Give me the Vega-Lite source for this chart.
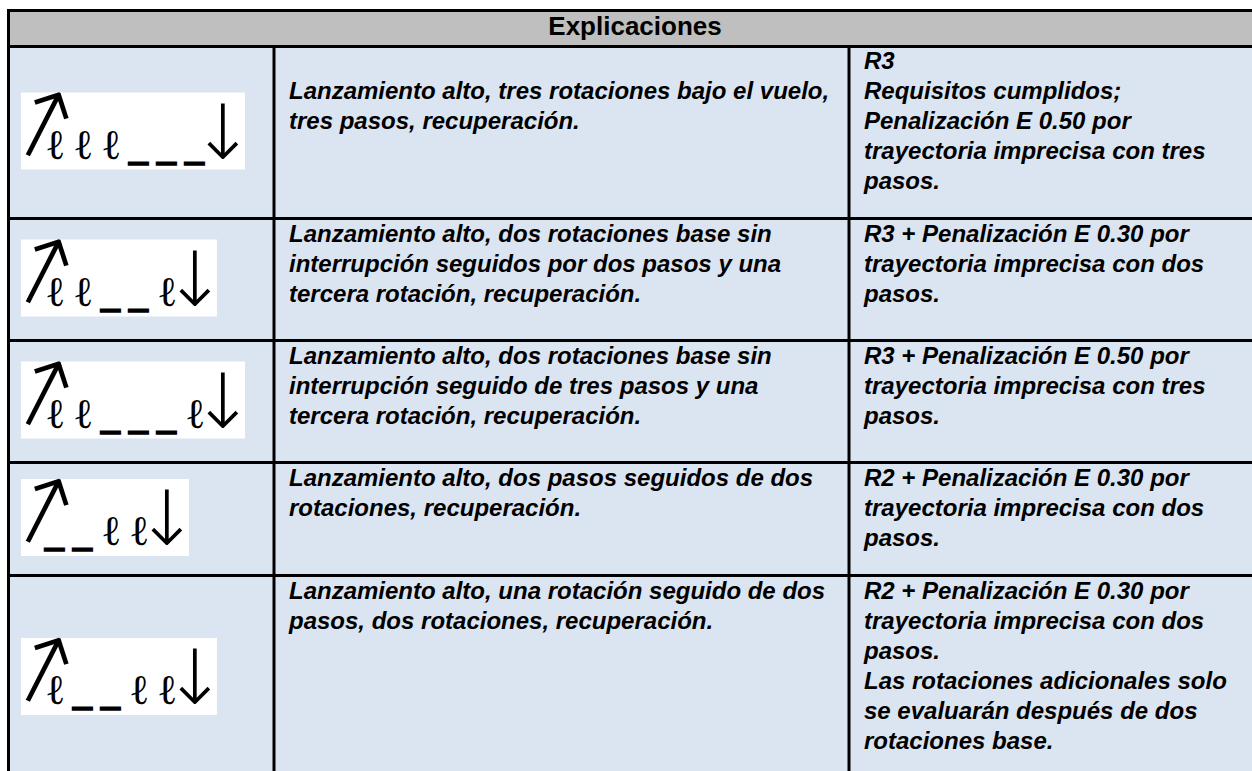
{
  "$schema": "https://vega.github.io/schema/vega-lite/v6.json",
  "padding": {"left": 7, "top": 9, "right": 0, "bottom": 0},
  "spacing": 0,
  "config": {"view": {"stroke": null}},
  "usermeta": {"embedOptions": {"actions": false}},
  "datasets": {
    "encabezado": [{"titulo": "Explicaciones"}],
    "celdas": [
      {"fila": 1, "col": 1, "linea": 2, "texto": "Lanzamiento alto, tres rotaciones bajo el vuelo,"},
      {"fila": 1, "col": 1, "linea": 3, "texto": "tres pasos, recuperación."},
      {"fila": 1, "col": 2, "linea": 1, "texto": "R3"},
      {"fila": 1, "col": 2, "linea": 2, "texto": "Requisitos cumplidos;"},
      {"fila": 1, "col": 2, "linea": 3, "texto": "Penalización E 0.50 por"},
      {"fila": 1, "col": 2, "linea": 4, "texto": "trayectoria imprecisa con tres"},
      {"fila": 1, "col": 2, "linea": 5, "texto": "pasos."},
      {"fila": 2, "col": 1, "linea": 1, "texto": "Lanzamiento alto, dos rotaciones base sin"},
      {"fila": 2, "col": 1, "linea": 2, "texto": "interrupción seguidos por dos pasos y una"},
      {"fila": 2, "col": 1, "linea": 3, "texto": "tercera rotación, recuperación."},
      {"fila": 2, "col": 2, "linea": 1, "texto": "R3 + Penalización E 0.30 por"},
      {"fila": 2, "col": 2, "linea": 2, "texto": "trayectoria imprecisa con dos"},
      {"fila": 2, "col": 2, "linea": 3, "texto": "pasos."},
      {"fila": 3, "col": 1, "linea": 1, "texto": "Lanzamiento alto, dos rotaciones base sin"},
      {"fila": 3, "col": 1, "linea": 2, "texto": "interrupción seguido de tres pasos y una"},
      {"fila": 3, "col": 1, "linea": 3, "texto": "tercera rotación, recuperación."},
      {"fila": 3, "col": 2, "linea": 1, "texto": "R3 + Penalización E 0.50 por"},
      {"fila": 3, "col": 2, "linea": 2, "texto": "trayectoria imprecisa con tres"},
      {"fila": 3, "col": 2, "linea": 3, "texto": "pasos."},
      {"fila": 4, "col": 1, "linea": 1, "texto": "Lanzamiento alto, dos pasos seguidos de dos"},
      {"fila": 4, "col": 1, "linea": 2, "texto": "rotaciones, recuperación."},
      {"fila": 4, "col": 2, "linea": 1, "texto": "R2 + Penalización E 0.30 por"},
      {"fila": 4, "col": 2, "linea": 2, "texto": "trayectoria imprecisa con dos"},
      {"fila": 4, "col": 2, "linea": 3, "texto": "pasos."},
      {"fila": 5, "col": 1, "linea": 1, "texto": "Lanzamiento alto, una rotación seguido de dos"},
      {"fila": 5, "col": 1, "linea": 2, "texto": "pasos, dos rotaciones, recuperación."},
      {"fila": 5, "col": 2, "linea": 1, "texto": "R2 + Penalización E 0.30 por"},
      {"fila": 5, "col": 2, "linea": 2, "texto": "trayectoria imprecisa con dos"},
      {"fila": 5, "col": 2, "linea": 3, "texto": "pasos."},
      {"fila": 5, "col": 2, "linea": 4, "texto": "Las rotaciones adicionales solo"},
      {"fila": 5, "col": 2, "linea": 5, "texto": "se evaluarán después de dos"},
      {"fila": 5, "col": 2, "linea": 6, "texto": "rotaciones base."}
    ],
    "simbolos": [
      {"fila": 1, "orden": 1, "elemento": "lanzamiento", "glifo": "↑"},
      {"fila": 1, "orden": 2, "elemento": "rotación", "glifo": "ℓ"},
      {"fila": 1, "orden": 3, "elemento": "rotación", "glifo": "ℓ"},
      {"fila": 1, "orden": 4, "elemento": "rotación", "glifo": "ℓ"},
      {"fila": 1, "orden": 5, "elemento": "paso", "glifo": "▁"},
      {"fila": 1, "orden": 6, "elemento": "paso", "glifo": "▁"},
      {"fila": 1, "orden": 7, "elemento": "paso", "glifo": "▁"},
      {"fila": 1, "orden": 8, "elemento": "recuperación", "glifo": "↓"},
      {"fila": 2, "orden": 1, "elemento": "lanzamiento", "glifo": "↑"},
      {"fila": 2, "orden": 2, "elemento": "rotación", "glifo": "ℓ"},
      {"fila": 2, "orden": 3, "elemento": "rotación", "glifo": "ℓ"},
      {"fila": 2, "orden": 4, "elemento": "paso", "glifo": "▁"},
      {"fila": 2, "orden": 5, "elemento": "paso", "glifo": "▁"},
      {"fila": 2, "orden": 6, "elemento": "rotación", "glifo": "ℓ"},
      {"fila": 2, "orden": 7, "elemento": "recuperación", "glifo": "↓"},
      {"fila": 3, "orden": 1, "elemento": "lanzamiento", "glifo": "↑"},
      {"fila": 3, "orden": 2, "elemento": "rotación", "glifo": "ℓ"},
      {"fila": 3, "orden": 3, "elemento": "rotación", "glifo": "ℓ"},
      {"fila": 3, "orden": 4, "elemento": "paso", "glifo": "▁"},
      {"fila": 3, "orden": 5, "elemento": "paso", "glifo": "▁"},
      {"fila": 3, "orden": 6, "elemento": "paso", "glifo": "▁"},
      {"fila": 3, "orden": 7, "elemento": "rotación", "glifo": "ℓ"},
      {"fila": 3, "orden": 8, "elemento": "recuperación", "glifo": "↓"},
      {"fila": 4, "orden": 1, "elemento": "lanzamiento", "glifo": "↑"},
      {"fila": 4, "orden": 2, "elemento": "paso", "glifo": "▁"},
      {"fila": 4, "orden": 3, "elemento": "paso", "glifo": "▁"},
      {"fila": 4, "orden": 4, "elemento": "rotación", "glifo": "ℓ"},
      {"fila": 4, "orden": 5, "elemento": "rotación", "glifo": "ℓ"},
      {"fila": 4, "orden": 6, "elemento": "recuperación", "glifo": "↓"},
      {"fila": 5, "orden": 1, "elemento": "lanzamiento", "glifo": "↑"},
      {"fila": 5, "orden": 2, "elemento": "rotación", "glifo": "ℓ"},
      {"fila": 5, "orden": 3, "elemento": "paso", "glifo": "▁"},
      {"fila": 5, "orden": 4, "elemento": "paso", "glifo": "▁"},
      {"fila": 5, "orden": 5, "elemento": "rotación", "glifo": "ℓ"},
      {"fila": 5, "orden": 6, "elemento": "rotación", "glifo": "ℓ"},
      {"fila": 5, "orden": 7, "elemento": "recuperación", "glifo": "↓"}
    ]
  },
  "vconcat": [
    {
      "width": 1245, "height": 36,
      "view": {"fill": "#bfbfbf", "stroke": null},
      "data": {"name": "encabezado"},
      "layer": [
        {"mark": {"type": "text", "font": "Liberation Sans", "fontSize": 26, "fontWeight": "bold", "align": "center", "baseline": "middle", "color": "#000000"},
         "encoding": {"x": {"datum": 1.5, "type": "quantitative", "scale": {"domain": [1, 2], "range": [0, 1256], "nice": false, "zero": false}, "axis": null},
                      "y": {"datum": 1.5, "type": "quantitative", "scale": {"domain": [1, 2], "nice": false, "zero": false}, "axis": null},
                      "text": {"field": "titulo"}}},
        {"mark": {"type": "rect", "fill": "#000000", "x2Offset": 3}, "encoding": {"x": {"datum": 1, "type": "quantitative"}, "x2": {"datum": 1}}},
        {"mark": {"type": "rect", "fill": "#000000", "y2Offset": 3}, "encoding": {"y": {"datum": 2, "type": "quantitative"}, "y2": {"datum": 2}}}
      ]
    },
    {
      "hconcat": [
        {
          "width": 267, "height": 172, "view": {"fill": "#dbe5f1", "stroke": null},
          "data": {"name": "simbolos"}, "transform": [{"filter": "datum.fila == 1"}],
          "layer": [
            {"transform": [{"aggregate": [{"op": "min", "field": "orden", "as": "a"}, {"op": "max", "field": "orden", "as": "b"}]}],
             "mark": {"type": "rect", "fill": "#ffffff", "xOffset": -14, "x2Offset": 14},
             "encoding": {"x": {"field": "a", "type": "quantitative", "scale": {"domain": [0.001, 9.537], "nice": false, "zero": false}, "axis": null}, "x2": {"field": "b"},
                          "y": {"datum": 4, "type": "quantitative", "scale": {"domain": [2.7662, 7.2338], "nice": false, "zero": false}, "axis": null}, "y2": {"datum": 6}}},
            {"mark": {"type": "text", "font": "DejaVu Sans", "fontWeight": 200, "align": "center", "baseline": "alphabetic", "dx": -8, "color": "#000000", "clip": true},
             "encoding": {"x": {"field": "orden", "type": "quantitative"}, "y": {"datum": 4.273, "type": "quantitative"}, "text": {"field": "glifo"},
                          "angle": {"condition": {"test": "datum.elemento == 'lanzamiento'", "value": 27}, "value": 0},
                          "size": {"condition": [{"test": "datum.elemento == 'lanzamiento'", "value": 96}, {"test": "datum.elemento == 'recuperación'", "value": 76}, {"test": "datum.elemento == 'paso'", "value": 27}], "value": 42}}},
            {"transform": [{"aggregate": [{"op": "count", "as": "n"}]}], "mark": {"type": "rect", "fill": "#000000", "x2Offset": 3}, "encoding": {"x": {"datum": 0.001, "type": "quantitative"}, "x2": {"datum": 0.001}}},
            {"transform": [{"aggregate": [{"op": "count", "as": "n"}]}], "mark": {"type": "rect", "fill": "#000000", "y2Offset": 3}, "encoding": {"y": {"datum": 7.2338, "type": "quantitative"}, "y2": {"datum": 7.2338}}}
          ]
        },
        {
          "width": 575, "height": 172, "view": {"fill": "#dbe5f1", "stroke": null},
          "data": {"name": "celdas"}, "transform": [{"filter": "datum.fila == 1 && datum.col == 1"}],
          "layer": [
            {"mark": {"type": "text", "font": "Liberation Sans", "fontSize": 24, "fontStyle": "italic", "fontWeight": "bold", "align": "left", "baseline": "middle", "dx": 15, "color": "#000000"},
             "encoding": {"x": {"datum": 1, "type": "quantitative", "scale": {"domain": [1, 2], "nice": false, "zero": false}, "axis": null},
                          "y": {"field": "linea", "type": "quantitative", "scale": {"domain": [0.41667, 6.15], "reverse": true, "nice": false, "zero": false}, "axis": null},
                          "text": {"field": "texto"}}},
            {"transform": [{"aggregate": [{"op": "count", "as": "n"}]}], "mark": {"type": "rect", "fill": "#000000", "xOffset": -1.5, "x2Offset": 1.5}, "encoding": {"x": {"datum": 1, "type": "quantitative"}, "x2": {"datum": 1}}},
            {"transform": [{"aggregate": [{"op": "count", "as": "n"}]}], "mark": {"type": "rect", "fill": "#000000", "y2Offset": 3}, "encoding": {"y": {"datum": 0.41667, "type": "quantitative"}, "y2": {"datum": 0.41667}}}
          ]
        },
        {
          "width": 403, "height": 172, "view": {"fill": "#dbe5f1", "stroke": null},
          "data": {"name": "celdas"}, "transform": [{"filter": "datum.fila == 1 && datum.col == 2"}],
          "layer": [
            {"mark": {"type": "text", "font": "Liberation Sans", "fontSize": 24, "fontStyle": "italic", "fontWeight": "bold", "align": "left", "baseline": "middle", "dx": 15, "color": "#000000"},
             "encoding": {"x": {"datum": 1, "type": "quantitative", "scale": {"domain": [1, 2], "nice": false, "zero": false}, "axis": null},
                          "y": {"field": "linea", "type": "quantitative", "scale": {"domain": [0.41667, 6.15], "reverse": true, "nice": false, "zero": false}, "axis": null},
                          "text": {"field": "texto"}}},
            {"transform": [{"aggregate": [{"op": "count", "as": "n"}]}], "mark": {"type": "rect", "fill": "#000000", "xOffset": -1.5, "x2Offset": 1.5}, "encoding": {"x": {"datum": 1, "type": "quantitative"}, "x2": {"datum": 1}}},
            {"transform": [{"aggregate": [{"op": "count", "as": "n"}]}], "mark": {"type": "rect", "fill": "#000000", "y2Offset": 3}, "encoding": {"y": {"datum": 0.41667, "type": "quantitative"}, "y2": {"datum": 0.41667}}}
          ]
        }
      ],
      "spacing": 0, "bounds": "flush"
    },
    {
      "hconcat": [
        {
          "width": 267, "height": 122, "view": {"fill": "#dbe5f1", "stroke": null},
          "data": {"name": "simbolos"}, "transform": [{"filter": "datum.fila == 2"}],
          "layer": [
            {"transform": [{"aggregate": [{"op": "min", "field": "orden", "as": "a"}, {"op": "max", "field": "orden", "as": "b"}]}],
             "mark": {"type": "rect", "fill": "#ffffff", "xOffset": -14, "x2Offset": 14},
             "encoding": {"x": {"field": "a", "type": "quantitative", "scale": {"domain": [0.001, 9.537], "nice": false, "zero": false}, "axis": null}, "x2": {"field": "b"},
                          "y": {"datum": 4, "type": "quantitative", "scale": {"domain": [3.4156, 6.5844], "nice": false, "zero": false}, "axis": null}, "y2": {"datum": 6}}},
            {"mark": {"type": "text", "font": "DejaVu Sans", "fontWeight": 200, "align": "center", "baseline": "alphabetic", "dx": -8, "color": "#000000", "clip": true},
             "encoding": {"x": {"field": "orden", "type": "quantitative"}, "y": {"datum": 4.273, "type": "quantitative"}, "text": {"field": "glifo"},
                          "angle": {"condition": {"test": "datum.elemento == 'lanzamiento'", "value": 27}, "value": 0},
                          "size": {"condition": [{"test": "datum.elemento == 'lanzamiento'", "value": 96}, {"test": "datum.elemento == 'recuperación'", "value": 76}, {"test": "datum.elemento == 'paso'", "value": 27}], "value": 42}}},
            {"transform": [{"aggregate": [{"op": "count", "as": "n"}]}], "mark": {"type": "rect", "fill": "#000000", "x2Offset": 3}, "encoding": {"x": {"datum": 0.001, "type": "quantitative"}, "x2": {"datum": 0.001}}},
            {"transform": [{"aggregate": [{"op": "count", "as": "n"}]}], "mark": {"type": "rect", "fill": "#000000", "y2Offset": 3}, "encoding": {"y": {"datum": 6.5844, "type": "quantitative"}, "y2": {"datum": 6.5844}}}
          ]
        },
        {
          "width": 575, "height": 122, "view": {"fill": "#dbe5f1", "stroke": null},
          "data": {"name": "celdas"}, "transform": [{"filter": "datum.fila == 2 && datum.col == 1"}],
          "layer": [
            {"mark": {"type": "text", "font": "Liberation Sans", "fontSize": 24, "fontStyle": "italic", "fontWeight": "bold", "align": "left", "baseline": "middle", "dx": 15, "color": "#000000"},
             "encoding": {"x": {"datum": 1, "type": "quantitative", "scale": {"domain": [1, 2], "nice": false, "zero": false}, "axis": null},
                          "y": {"field": "linea", "type": "quantitative", "scale": {"domain": [0.41667, 4.4833], "reverse": true, "nice": false, "zero": false}, "axis": null},
                          "text": {"field": "texto"}}},
            {"transform": [{"aggregate": [{"op": "count", "as": "n"}]}], "mark": {"type": "rect", "fill": "#000000", "xOffset": -1.5, "x2Offset": 1.5}, "encoding": {"x": {"datum": 1, "type": "quantitative"}, "x2": {"datum": 1}}},
            {"transform": [{"aggregate": [{"op": "count", "as": "n"}]}], "mark": {"type": "rect", "fill": "#000000", "y2Offset": 3}, "encoding": {"y": {"datum": 0.41667, "type": "quantitative"}, "y2": {"datum": 0.41667}}}
          ]
        },
        {
          "width": 403, "height": 122, "view": {"fill": "#dbe5f1", "stroke": null},
          "data": {"name": "celdas"}, "transform": [{"filter": "datum.fila == 2 && datum.col == 2"}],
          "layer": [
            {"mark": {"type": "text", "font": "Liberation Sans", "fontSize": 24, "fontStyle": "italic", "fontWeight": "bold", "align": "left", "baseline": "middle", "dx": 15, "color": "#000000"},
             "encoding": {"x": {"datum": 1, "type": "quantitative", "scale": {"domain": [1, 2], "nice": false, "zero": false}, "axis": null},
                          "y": {"field": "linea", "type": "quantitative", "scale": {"domain": [0.41667, 4.4833], "reverse": true, "nice": false, "zero": false}, "axis": null},
                          "text": {"field": "texto"}}},
            {"transform": [{"aggregate": [{"op": "count", "as": "n"}]}], "mark": {"type": "rect", "fill": "#000000", "xOffset": -1.5, "x2Offset": 1.5}, "encoding": {"x": {"datum": 1, "type": "quantitative"}, "x2": {"datum": 1}}},
            {"transform": [{"aggregate": [{"op": "count", "as": "n"}]}], "mark": {"type": "rect", "fill": "#000000", "y2Offset": 3}, "encoding": {"y": {"datum": 0.41667, "type": "quantitative"}, "y2": {"datum": 0.41667}}}
          ]
        }
      ],
      "spacing": 0, "bounds": "flush"
    },
    {
      "hconcat": [
        {
          "width": 267, "height": 122, "view": {"fill": "#dbe5f1", "stroke": null},
          "data": {"name": "simbolos"}, "transform": [{"filter": "datum.fila == 3"}],
          "layer": [
            {"transform": [{"aggregate": [{"op": "min", "field": "orden", "as": "a"}, {"op": "max", "field": "orden", "as": "b"}]}],
             "mark": {"type": "rect", "fill": "#ffffff", "xOffset": -14, "x2Offset": 14},
             "encoding": {"x": {"field": "a", "type": "quantitative", "scale": {"domain": [0.001, 9.537], "nice": false, "zero": false}, "axis": null}, "x2": {"field": "b"},
                          "y": {"datum": 4, "type": "quantitative", "scale": {"domain": [3.4156, 6.5844], "nice": false, "zero": false}, "axis": null}, "y2": {"datum": 6}}},
            {"mark": {"type": "text", "font": "DejaVu Sans", "fontWeight": 200, "align": "center", "baseline": "alphabetic", "dx": -8, "color": "#000000", "clip": true},
             "encoding": {"x": {"field": "orden", "type": "quantitative"}, "y": {"datum": 4.273, "type": "quantitative"}, "text": {"field": "glifo"},
                          "angle": {"condition": {"test": "datum.elemento == 'lanzamiento'", "value": 27}, "value": 0},
                          "size": {"condition": [{"test": "datum.elemento == 'lanzamiento'", "value": 96}, {"test": "datum.elemento == 'recuperación'", "value": 76}, {"test": "datum.elemento == 'paso'", "value": 27}], "value": 42}}},
            {"transform": [{"aggregate": [{"op": "count", "as": "n"}]}], "mark": {"type": "rect", "fill": "#000000", "x2Offset": 3}, "encoding": {"x": {"datum": 0.001, "type": "quantitative"}, "x2": {"datum": 0.001}}},
            {"transform": [{"aggregate": [{"op": "count", "as": "n"}]}], "mark": {"type": "rect", "fill": "#000000", "y2Offset": 3}, "encoding": {"y": {"datum": 6.5844, "type": "quantitative"}, "y2": {"datum": 6.5844}}}
          ]
        },
        {
          "width": 575, "height": 122, "view": {"fill": "#dbe5f1", "stroke": null},
          "data": {"name": "celdas"}, "transform": [{"filter": "datum.fila == 3 && datum.col == 1"}],
          "layer": [
            {"mark": {"type": "text", "font": "Liberation Sans", "fontSize": 24, "fontStyle": "italic", "fontWeight": "bold", "align": "left", "baseline": "middle", "dx": 15, "color": "#000000"},
             "encoding": {"x": {"datum": 1, "type": "quantitative", "scale": {"domain": [1, 2], "nice": false, "zero": false}, "axis": null},
                          "y": {"field": "linea", "type": "quantitative", "scale": {"domain": [0.41667, 4.4833], "reverse": true, "nice": false, "zero": false}, "axis": null},
                          "text": {"field": "texto"}}},
            {"transform": [{"aggregate": [{"op": "count", "as": "n"}]}], "mark": {"type": "rect", "fill": "#000000", "xOffset": -1.5, "x2Offset": 1.5}, "encoding": {"x": {"datum": 1, "type": "quantitative"}, "x2": {"datum": 1}}},
            {"transform": [{"aggregate": [{"op": "count", "as": "n"}]}], "mark": {"type": "rect", "fill": "#000000", "y2Offset": 3}, "encoding": {"y": {"datum": 0.41667, "type": "quantitative"}, "y2": {"datum": 0.41667}}}
          ]
        },
        {
          "width": 403, "height": 122, "view": {"fill": "#dbe5f1", "stroke": null},
          "data": {"name": "celdas"}, "transform": [{"filter": "datum.fila == 3 && datum.col == 2"}],
          "layer": [
            {"mark": {"type": "text", "font": "Liberation Sans", "fontSize": 24, "fontStyle": "italic", "fontWeight": "bold", "align": "left", "baseline": "middle", "dx": 15, "color": "#000000"},
             "encoding": {"x": {"datum": 1, "type": "quantitative", "scale": {"domain": [1, 2], "nice": false, "zero": false}, "axis": null},
                          "y": {"field": "linea", "type": "quantitative", "scale": {"domain": [0.41667, 4.4833], "reverse": true, "nice": false, "zero": false}, "axis": null},
                          "text": {"field": "texto"}}},
            {"transform": [{"aggregate": [{"op": "count", "as": "n"}]}], "mark": {"type": "rect", "fill": "#000000", "xOffset": -1.5, "x2Offset": 1.5}, "encoding": {"x": {"datum": 1, "type": "quantitative"}, "x2": {"datum": 1}}},
            {"transform": [{"aggregate": [{"op": "count", "as": "n"}]}], "mark": {"type": "rect", "fill": "#000000", "y2Offset": 3}, "encoding": {"y": {"datum": 0.41667, "type": "quantitative"}, "y2": {"datum": 0.41667}}}
          ]
        }
      ],
      "spacing": 0, "bounds": "flush"
    },
    {
      "hconcat": [
        {
          "width": 267, "height": 113, "view": {"fill": "#dbe5f1", "stroke": null},
          "data": {"name": "simbolos"}, "transform": [{"filter": "datum.fila == 4"}],
          "layer": [
            {"transform": [{"aggregate": [{"op": "min", "field": "orden", "as": "a"}, {"op": "max", "field": "orden", "as": "b"}]}],
             "mark": {"type": "rect", "fill": "#ffffff", "xOffset": -14, "x2Offset": 14},
             "encoding": {"x": {"field": "a", "type": "quantitative", "scale": {"domain": [0.001, 9.537], "nice": false, "zero": false}, "axis": null}, "x2": {"field": "b"},
                          "y": {"datum": 4, "type": "quantitative", "scale": {"domain": [3.5325, 6.4675], "nice": false, "zero": false}, "axis": null}, "y2": {"datum": 6}}},
            {"mark": {"type": "text", "font": "DejaVu Sans", "fontWeight": 200, "align": "center", "baseline": "alphabetic", "dx": -8, "color": "#000000", "clip": true},
             "encoding": {"x": {"field": "orden", "type": "quantitative"}, "y": {"datum": 4.273, "type": "quantitative"}, "text": {"field": "glifo"},
                          "angle": {"condition": {"test": "datum.elemento == 'lanzamiento'", "value": 27}, "value": 0},
                          "size": {"condition": [{"test": "datum.elemento == 'lanzamiento'", "value": 96}, {"test": "datum.elemento == 'recuperación'", "value": 76}, {"test": "datum.elemento == 'paso'", "value": 27}], "value": 42}}},
            {"transform": [{"aggregate": [{"op": "count", "as": "n"}]}], "mark": {"type": "rect", "fill": "#000000", "x2Offset": 3}, "encoding": {"x": {"datum": 0.001, "type": "quantitative"}, "x2": {"datum": 0.001}}},
            {"transform": [{"aggregate": [{"op": "count", "as": "n"}]}], "mark": {"type": "rect", "fill": "#000000", "y2Offset": 3}, "encoding": {"y": {"datum": 6.4675, "type": "quantitative"}, "y2": {"datum": 6.4675}}}
          ]
        },
        {
          "width": 575, "height": 113, "view": {"fill": "#dbe5f1", "stroke": null},
          "data": {"name": "celdas"}, "transform": [{"filter": "datum.fila == 4 && datum.col == 1"}],
          "layer": [
            {"mark": {"type": "text", "font": "Liberation Sans", "fontSize": 24, "fontStyle": "italic", "fontWeight": "bold", "align": "left", "baseline": "middle", "dx": 15, "color": "#000000"},
             "encoding": {"x": {"datum": 1, "type": "quantitative", "scale": {"domain": [1, 2], "nice": false, "zero": false}, "axis": null},
                          "y": {"field": "linea", "type": "quantitative", "scale": {"domain": [0.41667, 4.15], "reverse": true, "nice": false, "zero": false}, "axis": null},
                          "text": {"field": "texto"}}},
            {"transform": [{"aggregate": [{"op": "count", "as": "n"}]}], "mark": {"type": "rect", "fill": "#000000", "xOffset": -1.5, "x2Offset": 1.5}, "encoding": {"x": {"datum": 1, "type": "quantitative"}, "x2": {"datum": 1}}},
            {"transform": [{"aggregate": [{"op": "count", "as": "n"}]}], "mark": {"type": "rect", "fill": "#000000", "y2Offset": 3}, "encoding": {"y": {"datum": 0.41667, "type": "quantitative"}, "y2": {"datum": 0.41667}}}
          ]
        },
        {
          "width": 403, "height": 113, "view": {"fill": "#dbe5f1", "stroke": null},
          "data": {"name": "celdas"}, "transform": [{"filter": "datum.fila == 4 && datum.col == 2"}],
          "layer": [
            {"mark": {"type": "text", "font": "Liberation Sans", "fontSize": 24, "fontStyle": "italic", "fontWeight": "bold", "align": "left", "baseline": "middle", "dx": 15, "color": "#000000"},
             "encoding": {"x": {"datum": 1, "type": "quantitative", "scale": {"domain": [1, 2], "nice": false, "zero": false}, "axis": null},
                          "y": {"field": "linea", "type": "quantitative", "scale": {"domain": [0.41667, 4.15], "reverse": true, "nice": false, "zero": false}, "axis": null},
                          "text": {"field": "texto"}}},
            {"transform": [{"aggregate": [{"op": "count", "as": "n"}]}], "mark": {"type": "rect", "fill": "#000000", "xOffset": -1.5, "x2Offset": 1.5}, "encoding": {"x": {"datum": 1, "type": "quantitative"}, "x2": {"datum": 1}}},
            {"transform": [{"aggregate": [{"op": "count", "as": "n"}]}], "mark": {"type": "rect", "fill": "#000000", "y2Offset": 3}, "encoding": {"y": {"datum": 0.41667, "type": "quantitative"}, "y2": {"datum": 0.41667}}}
          ]
        }
      ],
      "spacing": 0, "bounds": "flush"
    },
    {
      "hconcat": [
        {
          "width": 267, "height": 197, "view": {"fill": "#dbe5f1", "stroke": null},
          "data": {"name": "simbolos"}, "transform": [{"filter": "datum.fila == 5"}],
          "layer": [
            {"transform": [{"aggregate": [{"op": "min", "field": "orden", "as": "a"}, {"op": "max", "field": "orden", "as": "b"}]}],
             "mark": {"type": "rect", "fill": "#ffffff", "xOffset": -14, "x2Offset": 14},
             "encoding": {"x": {"field": "a", "type": "quantitative", "scale": {"domain": [0.001, 9.537], "nice": false, "zero": false}, "axis": null}, "x2": {"field": "b"},
                          "y": {"datum": 4, "type": "quantitative", "scale": {"domain": [2.546, 7.662], "nice": false, "zero": false}, "axis": null}, "y2": {"datum": 6}}},
            {"mark": {"type": "text", "font": "DejaVu Sans", "fontWeight": 200, "align": "center", "baseline": "alphabetic", "dx": -8, "color": "#000000", "clip": true},
             "encoding": {"x": {"field": "orden", "type": "quantitative"}, "y": {"datum": 4.273, "type": "quantitative"}, "text": {"field": "glifo"},
                          "angle": {"condition": {"test": "datum.elemento == 'lanzamiento'", "value": 27}, "value": 0},
                          "size": {"condition": [{"test": "datum.elemento == 'lanzamiento'", "value": 96}, {"test": "datum.elemento == 'recuperación'", "value": 76}, {"test": "datum.elemento == 'paso'", "value": 27}], "value": 42}}},
            {"transform": [{"aggregate": [{"op": "count", "as": "n"}]}], "mark": {"type": "rect", "fill": "#000000", "x2Offset": 3}, "encoding": {"x": {"datum": 0.001, "type": "quantitative"}, "x2": {"datum": 0.001}}},
            {"transform": [{"aggregate": [{"op": "count", "as": "n"}]}], "mark": {"type": "rect", "fill": "#000000", "y2Offset": 3}, "encoding": {"y": {"datum": 7.662, "type": "quantitative"}, "y2": {"datum": 7.662}}}
          ]
        },
        {
          "width": 575, "height": 197, "view": {"fill": "#dbe5f1", "stroke": null},
          "data": {"name": "celdas"}, "transform": [{"filter": "datum.fila == 5 && datum.col == 1"}],
          "layer": [
            {"mark": {"type": "text", "font": "Liberation Sans", "fontSize": 24, "fontStyle": "italic", "fontWeight": "bold", "align": "left", "baseline": "middle", "dx": 15, "color": "#000000"},
             "encoding": {"x": {"datum": 1, "type": "quantitative", "scale": {"domain": [1, 2], "nice": false, "zero": false}, "axis": null},
                          "y": {"field": "linea", "type": "quantitative", "scale": {"domain": [0.41667, 6.9833], "reverse": true, "nice": false, "zero": false}, "axis": null},
                          "text": {"field": "texto"}}},
            {"transform": [{"aggregate": [{"op": "count", "as": "n"}]}], "mark": {"type": "rect", "fill": "#000000", "xOffset": -1.5, "x2Offset": 1.5}, "encoding": {"x": {"datum": 1, "type": "quantitative"}, "x2": {"datum": 1}}},
            {"transform": [{"aggregate": [{"op": "count", "as": "n"}]}], "mark": {"type": "rect", "fill": "#000000", "y2Offset": 3}, "encoding": {"y": {"datum": 0.41667, "type": "quantitative"}, "y2": {"datum": 0.41667}}}
          ]
        },
        {
          "width": 403, "height": 197, "view": {"fill": "#dbe5f1", "stroke": null},
          "data": {"name": "celdas"}, "transform": [{"filter": "datum.fila == 5 && datum.col == 2"}],
          "layer": [
            {"mark": {"type": "text", "font": "Liberation Sans", "fontSize": 24, "fontStyle": "italic", "fontWeight": "bold", "align": "left", "baseline": "middle", "dx": 15, "color": "#000000"},
             "encoding": {"x": {"datum": 1, "type": "quantitative", "scale": {"domain": [1, 2], "nice": false, "zero": false}, "axis": null},
                          "y": {"field": "linea", "type": "quantitative", "scale": {"domain": [0.41667, 6.9833], "reverse": true, "nice": false, "zero": false}, "axis": null},
                          "text": {"field": "texto"}}},
            {"transform": [{"aggregate": [{"op": "count", "as": "n"}]}], "mark": {"type": "rect", "fill": "#000000", "xOffset": -1.5, "x2Offset": 1.5}, "encoding": {"x": {"datum": 1, "type": "quantitative"}, "x2": {"datum": 1}}},
            {"transform": [{"aggregate": [{"op": "count", "as": "n"}]}], "mark": {"type": "rect", "fill": "#000000", "y2Offset": 3}, "encoding": {"y": {"datum": 0.41667, "type": "quantitative"}, "y2": {"datum": 0.41667}}}
          ]
        }
      ],
      "spacing": 0, "bounds": "flush"
    }
  ]
}
